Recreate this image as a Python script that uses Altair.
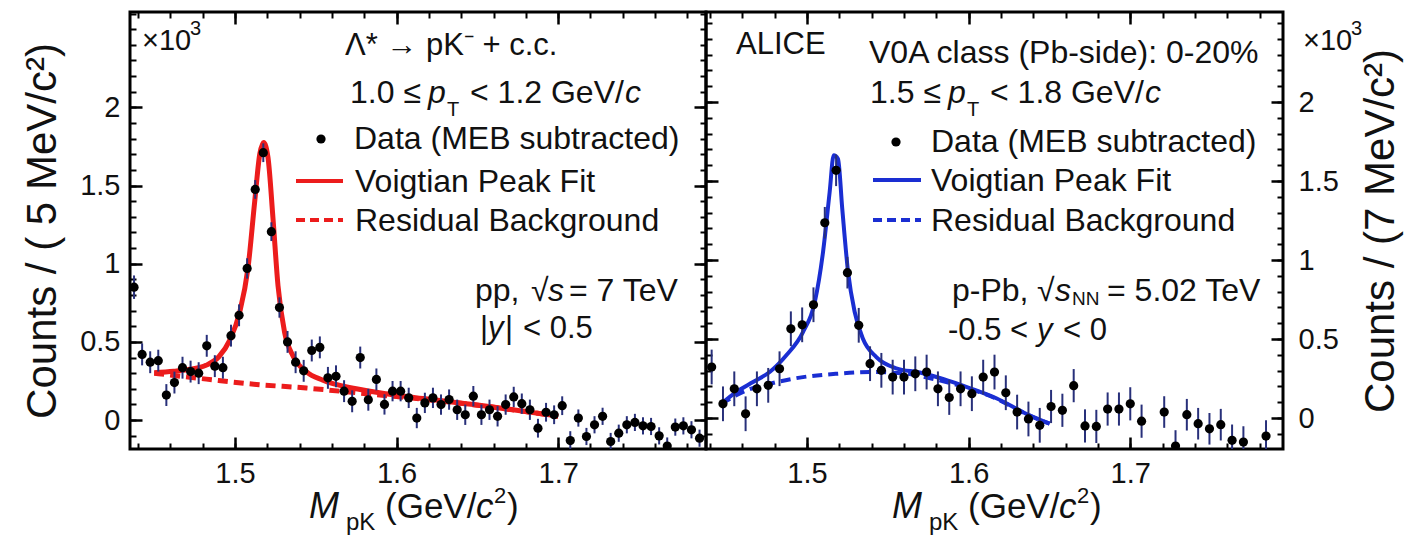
import altair as alt
import pandas as pd

FONT = "Liberation Sans"
TXT = "#111111"
ERR = "#28307a"
RED = "#ec1c1c"
BLUE = "#1a2ed2"

# ---------------- left panel: pp, 5 MeV/c^2 bins ----------------
pp_mass = [1.4375, 1.4425, 1.4475, 1.4525, 1.4575, 1.4625, 1.4675, 1.4725, 1.4775, 1.4825,
           1.4875, 1.4925, 1.4975, 1.5025, 1.5075, 1.5125, 1.5175, 1.5225, 1.5275, 1.5325,
           1.5375, 1.5425, 1.5475, 1.5525, 1.5575, 1.5625, 1.5675, 1.5725, 1.5775, 1.5825,
           1.5875, 1.5925, 1.5975, 1.6025, 1.6075, 1.6125, 1.6175, 1.6225, 1.6275, 1.6325,
           1.6375, 1.6425, 1.6475, 1.6525, 1.6575, 1.6625, 1.6675, 1.6725, 1.6775, 1.6825,
           1.6875, 1.6925, 1.6975, 1.7025, 1.7075, 1.7125, 1.7175, 1.7225, 1.7275, 1.7325,
           1.7375, 1.7425, 1.7475, 1.7525, 1.7575, 1.7625, 1.7675, 1.7725, 1.7775, 1.7825,
           1.7875]
pp_counts = [0.85, 0.42, 0.37, 0.38, 0.16, 0.24, 0.335, 0.31, 0.30, 0.475,
             0.345, 0.335, 0.54, 0.67, 0.97, 1.475, 1.71, 1.205, 0.72, 0.50,
             0.37, 0.315, 0.445, 0.465, 0.27, 0.28, 0.185, 0.12, 0.40, 0.13,
             0.26, 0.10, 0.185, 0.185, 0.142, 0.013, 0.11, 0.142, 0.099, 0.131,
             0.066, 0.034, 0.153, 0.034, 0.066, 0.024, 0.099, 0.148, 0.105, 0.066,
             -0.052, 0.05, 0.034, 0.092, -0.131, 0.013, -0.105, -0.03, 0.024, -0.137,
             -0.084, -0.03, -0.015, -0.037, -0.041, -0.101, -0.166, -0.045, -0.037, -0.062,
             -0.116]
pp_err = [0.075, 0.07, 0.07, 0.07, 0.07, 0.07, 0.07, 0.07, 0.07, 0.07, 0.07, 0.07, 0.07, 0.07, 0.065,
          0.06, 0.06, 0.06, 0.065, 0.07, 0.07, 0.07, 0.07, 0.07, 0.07, 0.07, 0.07, 0.07, 0.07, 0.07,
          0.07, 0.065, 0.065, 0.065, 0.065, 0.065, 0.065, 0.065, 0.065, 0.065, 0.065, 0.065, 0.065, 0.065, 0.065,
          0.065, 0.065, 0.065, 0.065, 0.065, 0.06, 0.06, 0.06, 0.06, 0.06, 0.055, 0.055, 0.055, 0.055, 0.055,
          0.055, 0.055, 0.055, 0.055, 0.055, 0.055, 0.055, 0.055, 0.055, 0.055, 0.055]
pp_fit_mass = [1.450, 1.462, 1.472, 1.482, 1.490, 1.4967, 1.5029, 1.508, 1.5122, 1.5153, 1.5177, 1.5204,
               1.5235, 1.5266, 1.5307, 1.5359, 1.5441, 1.5544, 1.575, 1.5957, 1.6163, 1.6513, 1.672, 1.700]
pp_fit = [0.303, 0.312, 0.325, 0.350, 0.405, 0.51, 0.69, 0.97, 1.40, 1.70, 1.776, 1.68,
          1.29, 0.86, 0.56, 0.41, 0.31, 0.255, 0.20, 0.165, 0.138, 0.095, 0.066, 0.025]
pp_bg_mass = [1.450, 1.4823, 1.5132, 1.5441, 1.5647, 1.600, 1.650, 1.700]
pp_bg = [0.300, 0.262, 0.228, 0.205, 0.185, 0.150, 0.095, 0.025]

# ---------------- right panel: p-Pb, 7 MeV/c^2 bins ----------------
ppb_mass = [1.441, 1.448, 1.455, 1.462, 1.469, 1.476, 1.483, 1.490, 1.497, 1.504,
            1.511, 1.518, 1.525, 1.532, 1.539, 1.546, 1.553, 1.560, 1.567, 1.574,
            1.581, 1.588, 1.595, 1.602, 1.609, 1.616, 1.623, 1.630, 1.637, 1.644,
            1.651, 1.658, 1.665, 1.672, 1.679, 1.686, 1.693, 1.700, 1.707,
            1.721, 1.728, 1.735, 1.742, 1.749, 1.756, 1.763, 1.770, 1.784]
ppb_counts = [0.323, 0.09, 0.185, 0.027, 0.185, 0.207, 0.312, 0.565, 0.59, 0.717,
              1.236, 1.568, 0.92, 0.587, 0.344, 0.302, 0.259, 0.259, 0.28, 0.291,
              0.185, 0.13, 0.185, 0.154, 0.259, 0.291, 0.16, 0.038, -0.006, -0.046,
              0.073, 0.049, 0.205, -0.05, -0.053, 0.057, 0.057, 0.09, -0.02,
              0.038, -0.177, 0.021, -0.036, -0.068, -0.042, -0.141, -0.152, -0.114]
ppb_err = [0.11, 0.11, 0.11, 0.11, 0.11, 0.11, 0.11, 0.11, 0.11, 0.11,
           0.10, 0.10, 0.10, 0.11, 0.11, 0.11, 0.11, 0.11, 0.11, 0.11,
           0.11, 0.11, 0.11, 0.11, 0.11, 0.11, 0.11, 0.11, 0.11, 0.11,
           0.105, 0.105, 0.105, 0.105, 0.105, 0.105, 0.105, 0.105, 0.105,
           0.10, 0.10, 0.10, 0.10, 0.10, 0.10, 0.10, 0.10, 0.10]
ppb_fit_mass = [1.447, 1.4563, 1.4666, 1.4769, 1.4872, 1.4975, 1.5048, 1.5099, 1.514, 1.5165, 1.5192,
                1.5218, 1.5254, 1.5295, 1.5346, 1.5429, 1.5552, 1.5697, 1.5841, 1.6006, 1.6171, 1.6356, 1.6501]
ppb_fit = [0.09, 0.165, 0.228, 0.291, 0.397, 0.544, 0.734, 1.05, 1.43, 1.663, 1.64,
           1.325, 0.924, 0.671, 0.502, 0.386, 0.315, 0.288, 0.248, 0.19, 0.125, 0.027, -0.036]
ppb_bg_mass = [1.447, 1.4625, 1.4769, 1.4975, 1.5181, 1.5388, 1.5594, 1.580, 1.6006, 1.6171, 1.6356, 1.6501]
ppb_bg = [0.09, 0.175, 0.217, 0.259, 0.28, 0.291, 0.283, 0.243, 0.186, 0.122, 0.025, -0.036]

# ---------------- tick values ----------------
x_major = [1.5, 1.6, 1.7]
x_minor = [1.44, 1.46, 1.48, 1.50, 1.52, 1.54, 1.56, 1.58, 1.60, 1.62,
           1.64, 1.66, 1.68, 1.70, 1.72, 1.74, 1.76, 1.78]
y_major = [0, 0.5, 1, 1.5, 2]
y_minor_left = [-0.1, 0.0, 0.1, 0.2, 0.3, 0.4, 0.5, 0.6, 0.7, 0.8, 0.9, 1.0, 1.1, 1.2,
                1.3, 1.4, 1.5, 1.6, 1.7, 1.8, 1.9, 2.0, 2.1, 2.2, 2.3, 2.4, 2.5, 2.6]
y_minor_right = [-0.1, 0.0, 0.1, 0.2, 0.3, 0.4, 0.5, 0.6, 0.7, 0.8, 0.9, 1.0, 1.1, 1.2,
                 1.3, 1.4, 1.5, 1.6, 1.7, 1.8, 1.9, 2.0, 2.1, 2.2, 2.3, 2.4, 2.5]

H = 437
ONE = pd.DataFrame({"k": [0]})


def ax(orient, values, major=True, **kw):
    L = 12 if major else 6
    d = dict(orient=orient, values=values, tickSize=L, offset=-L,
             tickWidth=2.5 if major else 2, tickColor="black",
             domain=False, grid=False, labels=False, title=None)
    d.update(kw)
    return alt.Axis(**d)


def txt(s, x, y, size, italic, ox, oy):
    mk = dict(text=s, font=FONT, fontSize=size, color=TXT, align="left", baseline="alphabetic")
    if italic:
        mk["fontStyle"] = "italic"
    return alt.Chart(ONE).mark_text(**mk).encode(x=alt.value(x - ox), y=alt.value(y - oy))


def dot(x, y, ox, oy):
    return alt.Chart(ONE).mark_circle(size=85, color="black", opacity=1).encode(
        x=alt.value(x - ox), y=alt.value(y - oy))


def seg(x1, x2, y, color, width, ox, oy, dashed=False):
    mk = dict(color=color, strokeWidth=width)
    if dashed:
        mk["strokeDash"] = [9, 5]
    return alt.Chart(ONE).mark_rule(**mk).encode(
        x=alt.value(x1 - ox), x2=alt.value(x2 - ox), y=alt.value(y - oy))


def panel(mass, counts, err, fm, fv, bm, bv, color, lw, xdom, ydom, y_minor,
          side, ytitle, width, extras, ykw):
    opp = "right" if side == "left" else "left"
    xs = alt.Scale(domain=xdom, nice=False, zero=False)
    ys = alt.Scale(domain=ydom, nice=False, zero=False)
    pts = pd.DataFrame({"m": mass, "v": counts,
                        "lo": [c - e for c, e in zip(counts, err)],
                        "hi": [c + e for c, e in zip(counts, err)]})
    fit = pd.DataFrame({"m": fm, "v": fv})
    bg = pd.DataFrame({"m": bm, "v": bv})

    bg_l = alt.Chart(bg).mark_line(color=color, strokeWidth=lw, strokeDash=[10, 6],
                                   interpolate="monotone", clip=True).encode(
        x=alt.X("m:Q", scale=xs, axis=ax("bottom", x_minor, major=False)),
        y=alt.Y("v:Q", scale=ys, axis=ax(side, y_minor, major=False)))
    fit_l = alt.Chart(fit).mark_line(color=color, strokeWidth=lw,
                                     interpolate="monotone", clip=True).encode(
        x=alt.X("m:Q", scale=xs, axis=ax("top", x_minor, major=False)),
        y=alt.Y("v:Q", scale=ys, axis=ax(opp, y_minor, major=False)))
    err_l = alt.Chart(pts).mark_rule(color=ERR, strokeWidth=2, clip=True).encode(
        x=alt.X("m:Q", scale=xs, axis=ax("top", x_major)),
        y=alt.Y("lo:Q", scale=ys, axis=ax(opp, y_major)),
        y2="hi:Q")
    pt_l = alt.Chart(pts).mark_circle(size=85, color="black", opacity=1, clip=True).encode(
        x=alt.X("m:Q", scale=xs, axis=ax("bottom", x_major, labels=True, format=".1f",
                                          labelFont=FONT, labelFontSize=29, labelColor=TXT,
                                          labelPadding=10, labelFlush=False)),
        y=alt.Y("v:Q", scale=ys, axis=ax(side, y_major, labels=True, format="~g",
                                          labelFont=FONT, labelFontSize=29, labelColor=TXT,
                                          title=ytitle, titleFont=FONT, titleFontSize=42,
                                          titleFontWeight="normal", titleColor=TXT, **ykw)))
    return alt.layer(bg_l, fit_l, err_l, pt_l, *extras).resolve_axis(
        x="independent", y="independent").properties(width=width, height=H)


# ---------------- annotations (left panel origin 127,10) ----------------
OXL, OY = 127, 10
left_texts = [
    ("×10", 139, 48, 29, False),
    ("3", 187, 33, 20, False),
    ("Λ* → pK⁻ + c.c.", 342, 53, 31, False),
    ("1.0 ≤", 347, 101, 32, False),
    ("p", 425, 101, 32, True),
    ("T", 444, 114, 20, False),
    ("< 1.2 GeV/", 467, 101, 32, False),
    ("c", 622, 101, 32, True),
    ("Data (MEB subtracted)", 351, 147, 32, False),
    ("Voigtian Peak Fit", 352, 190, 32, False),
    ("Residual Background", 352, 229, 32, False),
    ("pp,", 472, 299, 32, False),
    ("√", 528, 299, 32, False),
    ("s", 545, 299, 32, True),
    ("= 7 TeV", 566, 299, 32, False),
    ("|", 477, 336, 31, False),
    ("y", 485, 336, 31, True),
    ("|", 502, 336, 31, False),
    ("< 0.5", 520, 336, 31, False),
    ("M", 306, 516, 36, True),
    ("pK", 343, 528, 24, False),
    ("(GeV/", 382, 516, 35, False),
    ("c", 473, 516, 35, True),
    ("2", 491, 501, 22, False),
    (")", 504, 516, 35, False),
]
left_extras = [txt(s, x, y, f, it, OXL, OY) for s, x, y, f, it in left_texts]
left_extras += [dot(318, 137, OXL, OY),
                seg(293, 340, 179, RED, 4, OXL, OY),
                seg(293, 340, 218, RED, 4, OXL, OY, dashed=True)]

OXR = 703
right_texts = [
    ("ALICE", 733, 52, 31, False),
    ("V0A class (Pb-side): 0-20%", 866, 61, 32, False),
    ("1.5 ≤", 867, 101, 32, False),
    ("p", 945, 101, 32, True),
    ("T", 964, 114, 20, False),
    ("< 1.8 GeV/", 987, 101, 32, False),
    ("c", 1142, 101, 32, True),
    ("Data (MEB subtracted)", 928, 150, 32, False),
    ("Voigtian Peak Fit", 928, 189, 32, False),
    ("Residual Background", 928, 229, 32, False),
    ("p-Pb,", 949, 299, 32, False),
    ("√", 1034, 299, 32, False),
    ("s", 1052, 299, 32, True),
    ("NN", 1069, 303, 19, False),
    ("= 5.02 TeV", 1104, 299, 32, False),
    ("-0.5 <", 945, 338, 31, False),
    ("y", 1034, 338, 31, True),
    ("< 0", 1060, 338, 31, False),
    ("×10", 1300, 48, 29, False),
    ("3", 1348, 33, 20, False),
    ("M", 889, 516, 36, True),
    ("pK", 926, 528, 24, False),
    ("(GeV/", 965, 516, 35, False),
    ("c", 1056, 516, 35, True),
    ("2", 1074, 501, 22, False),
    (")", 1087, 516, 35, False),
]
right_extras = [txt(s, x, y, f, it, OXR, OY) for s, x, y, f, it in right_texts]
right_extras += [dot(893, 140, OXR, OY),
                 seg(870, 918, 178, BLUE, 4, OXR, OY),
                 seg(870, 918, 218, BLUE, 4, OXR, OY, dashed=True)]

left = panel(pp_mass, pp_counts, pp_err, pp_fit_mass, pp_fit, pp_bg_mass, pp_bg,
             RED, 5, [1.435, 1.7915], [-0.185, 2.61], y_minor_left, "left",
             "Counts / ( 5 MeV/c²)", 576, left_extras,
             dict(labelPadding=10, titlePadding=15))
right = panel(ppb_mass, ppb_counts, ppb_err, ppb_fit_mass, ppb_fit, ppb_bg_mass, ppb_bg,
              BLUE, 4, [1.4375, 1.7945], [-0.196, 2.57], y_minor_right, "right",
              "Counts / (7 MeV/c²)", 577, right_extras,
              dict(labelPadding=15, titlePadding=22, titleAngle=270, titleBaseline="top"))

chart = alt.hconcat(left, right, spacing=0, bounds="flush").resolve_scale(
    x="independent", y="independent").properties(
    padding={"left": 20, "top": 9, "right": 5, "bottom": 5}, background="white"
).configure_view(stroke="black", strokeWidth=3)

chart.save("out.html", embed_options={"renderer": "svg", "actions": False})
